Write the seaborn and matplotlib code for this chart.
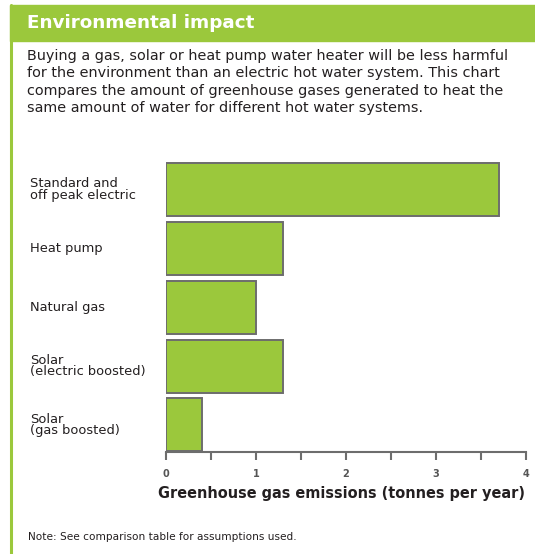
import matplotlib
matplotlib.use("Agg")
import matplotlib.pyplot as plt
import matplotlib.transforms as mtransforms
from matplotlib.patches import Rectangle
from matplotlib.lines import Line2D
from matplotlib.ticker import MultipleLocator
import seaborn as sns
import pandas as pd

categories = ["Standard and\noff peak electric", "Heat pump", "Natural gas",
              "Solar\n(electric boosted)", "Solar\n(gas boosted)"]
emissions = [3.7, 1.3, 1.0, 1.3, 0.4]
x_ticks = [0, 1, 2, 3, 4]

title = "Environmental impact"
description = ("Buying a gas, solar or heat pump water heater will be less harmful\n"
               "for the environment than an electric hot water system. This chart\n"
               "compares the amount of greenhouse gases generated to heat the\n"
               "same amount of water for different hot water systems.")
x_label = "Greenhouse gas emissions (tonnes per year)"
note = "Note: See comparison table for assumptions used."

sns.set_style("white")
plt.rcParams['font.family'] = ['DejaVu Sans']

GREEN = "#9bc83c"
TEXT = "#231f20"

W, H = 535, 554
fig = plt.figure(figsize=(W / 100, H / 100), dpi=100)

# header bar and left border
fig.patches.append(Rectangle((10 / W, 1 - 41 / H), (W - 10) / W, 36 / H,
                             transform=fig.transFigure, color=GREEN, zorder=0))
fig.lines.append(Line2D([11 / W, 11 / W], [0, 1 - 5 / H], transform=fig.transFigure,
                        color=GREEN, lw=2.2))
fig.text(27 / W, 1 - 23 / H, title, color="white", fontsize=13.2, fontweight="bold",
         va="center", ha="left")
fig.text(27 / W, 1 - 49 / H, description, color=TEXT, fontsize=10.35, va="top", ha="left",
         linespacing=1.3)

df = pd.DataFrame({"system": categories, "value": emissions})
ax = fig.add_axes([166 / W, (H - 452) / H, 360 / W, 292 / H])
sns.barplot(data=df, y="system", x="value", orient="h", ax=ax, color=GREEN,
            saturation=1, width=0.9, edgecolor="#6d6d6d", linewidth=1.4)
ax.set_xlim(0, 4)
ax.set_ylim(4.46, -0.5)
for s in ["top", "right", "left"]:
    ax.spines[s].set_visible(False)
ax.spines["bottom"].set_color("#6d6d6d")
ax.spines["bottom"].set_linewidth(1.5)
ax.set_xticks(x_ticks)
ax.xaxis.set_minor_locator(MultipleLocator(0.5))
ax.tick_params(axis="x", which="both", direction="out", length=6, width=1.5,
               color="#6d6d6d", bottom=True, labelsize=7, labelcolor="#555555", pad=6)
for lbl in ax.get_xticklabels():
    lbl.set_fontweight("bold")
ax.set_yticks([])
ax.set_ylabel("")
ax.set_xlabel(x_label, fontsize=10.45, fontweight="bold", color=TEXT, labelpad=5)
ax.xaxis.label.set_x(0.488)

trans = mtransforms.blended_transform_factory(fig.transFigure, ax.transData)
for i, c in enumerate(categories):
    ax.text(30 / W, i, c, transform=trans, ha="left", va="center", fontsize=9.4,
            color=TEXT, linespacing=0.88)

fig.text(28 / W, 1 - 537 / H, note, color=TEXT, fontsize=7.6, va="center", ha="left")

fig.savefig("out.png", dpi=100)
